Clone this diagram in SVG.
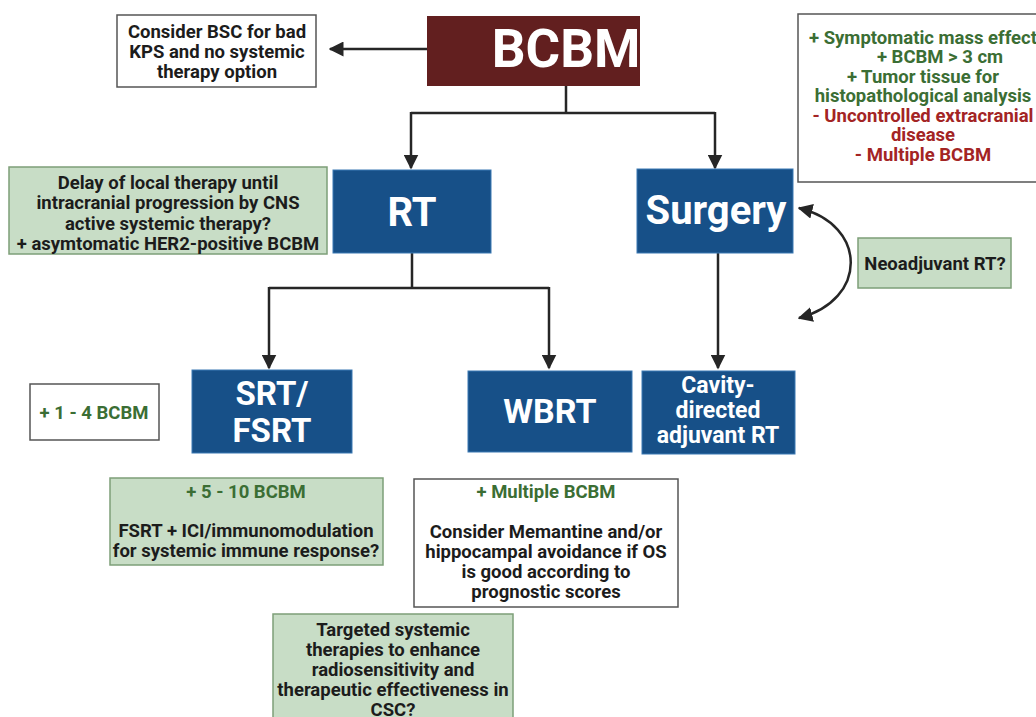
<svg xmlns="http://www.w3.org/2000/svg" width="1036" height="717" viewBox="0 0 1036 717">
<style>
text{font-family:Roboto,"Liberation Sans",Arial,sans-serif;font-weight:bold;text-anchor:middle}
.t{font-size:18.5px;fill:#1c1c1c}
.g{font-size:18.5px;fill:#3b6e34}
.r{font-size:18.5px;fill:#a32424}
.w{fill:#ffffff}
.box{fill:#ffffff;stroke:#555;stroke-width:1.5}
.gbox{fill:#c8ddc6;stroke:#7d9f78;stroke-width:1.5}
.blue{fill:#175088;stroke:#3b79b3;stroke-width:1}
.con{fill:none;stroke:#262626;stroke-width:2.5}
</style>
<defs>
<marker id="ah" viewBox="0 0 10 10" refX="9" refY="5" markerWidth="6" markerHeight="6" orient="auto-start-reverse" markerUnits="strokeWidth">
<path d="M0,0 L10,5 L0,10 z" fill="#262626"/>
</marker>
</defs>
<g id="connectors">
<path class="con" d="M427,49 L330,49" marker-end="url(#ah)"/>
<path class="con" d="M566,86 L566,113 M411,113 L715,113"/>
<path class="con" d="M411,112 L411,168" marker-end="url(#ah)"/>
<path class="con" d="M715,112 L715,168" marker-end="url(#ah)"/>
<path class="con" d="M412,253 L412,288 M269,288 L549,288"/>
<path class="con" d="M269,287 L269,368" marker-end="url(#ah)"/>
<path class="con" d="M549,287 L549,368" marker-end="url(#ah)"/>
<path class="con" d="M718,253 L718,368" marker-end="url(#ah)"/>
<path class="con" d="M799,208 C868,225 868,300 799,318" marker-start="url(#ah)" marker-end="url(#ah)"/>
</g>
<g id="bcbm">
<rect x="427" y="16" width="213" height="70" fill="#621f1f"/>
<text class="w" x="566" y="67" font-size="53">BCBM</text>
</g>
<g id="bsc">
<rect class="box" x="117" y="15" width="199" height="72"/>
<text class="t" x="217" y="38">Consider BSC for bad</text>
<text class="t" x="217" y="58">KPS and no systemic</text>
<text class="t" x="217" y="78">therapy option</text>
</g>
<g id="surgery-criteria">
<rect class="box" x="798" y="14" width="250" height="168"/>
<text class="g" x="923" y="44">+ Symptomatic mass effect</text>
<text class="g" x="940" y="63">+ BCBM &gt; 3 cm</text>
<text class="g" x="923" y="83">+ Tumor tissue for</text>
<text class="g" x="923" y="102">histopathological analysis</text>
<text class="r" x="923" y="122">- Uncontrolled extracranial</text>
<text class="r" x="923" y="141">disease</text>
<text class="r" x="923" y="161">- Multiple BCBM</text>
</g>
<g id="delay">
<rect class="gbox" x="9" y="167" width="318" height="87"/>
<text class="t" x="168" y="189">Delay of local therapy until</text>
<text class="t" x="168" y="209">intracranial progression by CNS</text>
<text class="t" x="168" y="230">active systemic therapy?</text>
<text class="t" x="168" y="250">+ asymtomatic HER2-positive BCBM</text>
</g>
<g id="rt">
<rect class="blue" x="333" y="170" width="158" height="83"/>
<text class="w" x="412" y="226" font-size="40">RT</text>
</g>
<g id="surgery">
<rect class="blue" x="637" y="169" width="156" height="84" stroke="#4a9ad2" stroke-width="1.5"/>
<text class="w" x="716" y="224" font-size="40">Surgery</text>
</g>
<g id="neoadjuvant">
<rect class="gbox" x="858" y="238" width="153" height="50"/>
<text class="t" x="935" y="270">Neoadjuvant RT?</text>
</g>
<g id="one-four">
<rect class="box" x="30" y="384" width="129" height="56"/>
<text class="g" x="94" y="419">+ 1 - 4 BCBM</text>
</g>
<g id="srt">
<rect class="blue" x="192" y="370" width="160" height="83"/>
<text class="w" x="272" y="405" font-size="33">SRT/</text>
<text class="w" x="272" y="442" font-size="33">FSRT</text>
</g>
<g id="wbrt">
<rect class="blue" x="468" y="371" width="164" height="81"/>
<text class="w" x="550" y="423" font-size="34">WBRT</text>
</g>
<g id="cavity">
<rect class="blue" x="642" y="371" width="153" height="83"/>
<text class="w" x="718" y="393" font-size="23">Cavity-</text>
<text class="w" x="718" y="418" font-size="23">directed</text>
<text class="w" x="718" y="443" font-size="23">adjuvant RT</text>
</g>
<g id="five-ten">
<rect class="gbox" x="110" y="478" width="273" height="87"/>
<text class="g" x="246" y="498">+ 5 - 10 BCBM</text>
<text class="t" x="246" y="537">FSRT + ICI/immunomodulation</text>
<text class="t" x="246" y="557">for systemic immune response?</text>
</g>
<g id="multiple">
<rect class="box" x="414" y="479" width="264" height="128"/>
<text class="g" x="546" y="498">+ Multiple BCBM</text>
<text class="t" x="546" y="538">Consider Memantine and/or</text>
<text class="t" x="546" y="558">hippocampal avoidance if OS</text>
<text class="t" x="546" y="578">is good according to</text>
<text class="t" x="546" y="598">prognostic scores</text>
</g>
<g id="targeted">
<rect class="gbox" x="273" y="614" width="240" height="110"/>
<text class="t" x="393" y="636">Targeted systemic</text>
<text class="t" x="393" y="656">therapies to enhance</text>
<text class="t" x="393" y="676">radiosensitivity and</text>
<text class="t" x="393" y="696">therapeutic effectiveness in</text>
<text class="t" x="393" y="716">CSC?</text>
</g>
</svg>
